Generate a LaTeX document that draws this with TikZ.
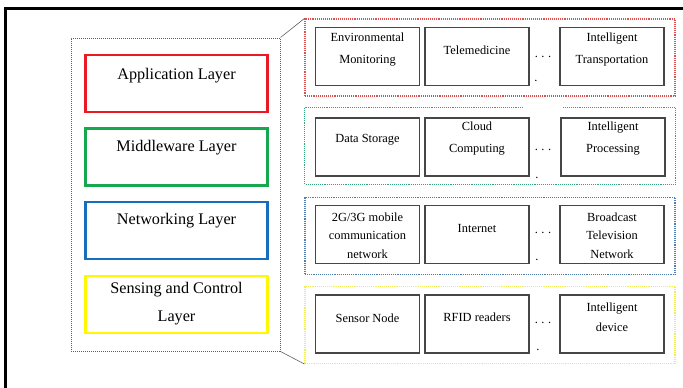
\documentclass[tikz,border=0pt]{standalone}
\usepackage{fontspec}
\setmainfont{Liberation Serif}
\usetikzlibrary{positioning}

\definecolor{appred}{RGB}{232,26,34}
\definecolor{midgreen}{RGB}{22,168,78}
\definecolor{netblue}{RGB}{24,110,190}
\definecolor{senseyellow}{RGB}{255,248,0}
\definecolor{appreddot}{RGB}{222,80,80}
\definecolor{midgreendot}{RGB}{50,165,120}
\definecolor{netbluedot}{RGB}{80,125,175}
\definecolor{senseyellowdot}{RGB}{240,236,90}
\definecolor{itemgray}{RGB}{70,70,70}
\definecolor{stackgray}{RGB}{95,95,95}

\tikzset{
  layer/.style={draw=#1, line width=2.6pt, minimum width=182pt, minimum height=57pt, inner sep=0pt},
  paneldots/.style={densely dotted, line width=1.1pt},
  panelbox/.style={minimum width=370pt, minimum height=77pt, inner sep=0pt},
  panel/.style={panelbox, draw=#1, paneldots},
  item/.style={draw=itemgray, line width=1.1pt, minimum width=104pt, minimum height=58pt, inner sep=0pt},
  layertext/.style={font=\fontsize{16.2}{28}\selectfont, align=center, inner sep=0pt},
  itemtext/.style={font=\fontsize{12.4}{22}\selectfont, align=center, inner sep=0pt},
  itemtextsmall/.style={font=\fontsize{12.4}{18.5}\selectfont, align=center, inner sep=0pt},
  dots/.style={font=\fontsize{12.4}{14}\selectfont, inner sep=0pt},
}

\begin{document}
\begin{tikzpicture}[x=1pt, y=-1pt]
	\useasboundingbox (0,0) rectangle (683,388);

	% page frame
	\draw[line width=2.5pt] (683,8.7) -- (5.3,8.7) -- (5.3,388);

	% left stack of layers
	\node[draw=stackgray, paneldots, line width=1pt, minimum width=209pt, minimum height=313pt, inner sep=0pt] (LayerStack) at (175.5,194.5) {};

	\node[layer=appred] (AppLayer) at (176.5,83.5) {};
	\node[layer=midgreen] (MidLayer) at (176.5,157) {};
	\node[layer=netblue] (NetLayer) at (176.5,230.5) {};
	\node[layer=senseyellow] (SenseLayer) at (176.5,304.5) {};

	\node[layertext] (AppLayerText) at (176.5,76) {Application Layer};
	\node[layertext] (MidLayerText) at (176.5,148) {Middleware Layer};
	\node[layertext] (NetLayerText) at (176.5,221) {Networking Layer};
	\node[layertext] (SenseLayerText) at (176.5,304) {Sensing and Control\\Layer};

	% right panels
	\node[panel=appreddot] (AppPanel) at (490,57.5) {};
	\node[panelbox] (MidPanel) at (490,146) {};
	\draw[midgreendot, paneldots] ([xshift=218pt]MidPanel.north west) -- (MidPanel.north west) -- (MidPanel.south west) -- (MidPanel.south east) -- (MidPanel.north east) -- ([xshift=-112pt]MidPanel.north east);
	\node[panel=netbluedot] (NetPanel) at (490,236) {};
	\node[panel=senseyellowdot] (SensePanel) at (490,325) {};

	\draw[stackgray, line width=0.6pt] (LayerStack.north east) -- (AppPanel.north west);
	\draw[stackgray, line width=0.6pt] (LayerStack.south east) -- (SensePanel.south west);

	% application row
	\node[item] (EnvMon) at (367.5,56.5) {};
	\node[item] (Telemed) at (477,56.5) {};
	\node[item] (IntTrans) at (612,56.5) {};
	\node[itemtext] at (367.5,50) {Environmental\\Monitoring};
	\node[itemtext] at (477,50) {Telemedicine};
	\node[itemtext] at (612,50) {Intelligent\\Transportation};
	\node[dots] (AppDots) at (543,57) {.\hspace{3.6pt}.\hspace{3.6pt}.};
	\node[dots] (AppDot) at (536,81) {.};

	% middleware row
	\node[item] (DataStore) at (367.5,147) {};
	\node[item] (CloudComp) at (477,147) {};
	\node[item] (IntProc) at (613,147) {};
	\node[itemtext] at (367.5,140) {Data Storage};
	\node[itemtext] at (477,139) {Cloud\\Computing};
	\node[itemtext] at (613,139) {Intelligent\\Processing};
	\node[dots] (MidDots) at (543,150) {.\hspace{3.6pt}.\hspace{3.6pt}.};
	\node[dots] (MidDot) at (537,178) {.};

	% networking row
	\node[item] (MobileNet) at (367.5,234.5) {};
	\node[item] (Internet) at (477,234.5) {};
	\node[item] (Broadcast) at (612,234.5) {};
	\node[itemtextsmall] at (367.5,235.5) {2G/3G mobile\\communication\\network};
	\node[itemtext] at (477,228) {Internet};
	\node[itemtextsmall] at (612,235.5) {Broadcast\\Television\\Network};
	\node[dots] (NetDots) at (543,233) {.\hspace{3.6pt}.\hspace{3.6pt}.};
	\node[dots] (NetDot) at (537,260) {.};

	% sensing row
	\node[item] (SensorNode) at (367.5,324) {};
	\node[item] (RFID) at (477,324) {};
	\node[item] (IntDevice) at (612,324) {};
	\node[itemtext] at (367.5,318) {Sensor Node};
	\node[itemtext] at (477,317) {RFID readers};
	\node[itemtextsmall, font=\fontsize{12.4}{20}\selectfont] at (612,317) {Intelligent\\device};
	\node[dots] (SenseDots) at (543,323) {.\hspace{3.6pt}.\hspace{3.6pt}.};
	\node[dots] (SenseDot) at (538,350) {.};

\end{tikzpicture}
\end{document}
